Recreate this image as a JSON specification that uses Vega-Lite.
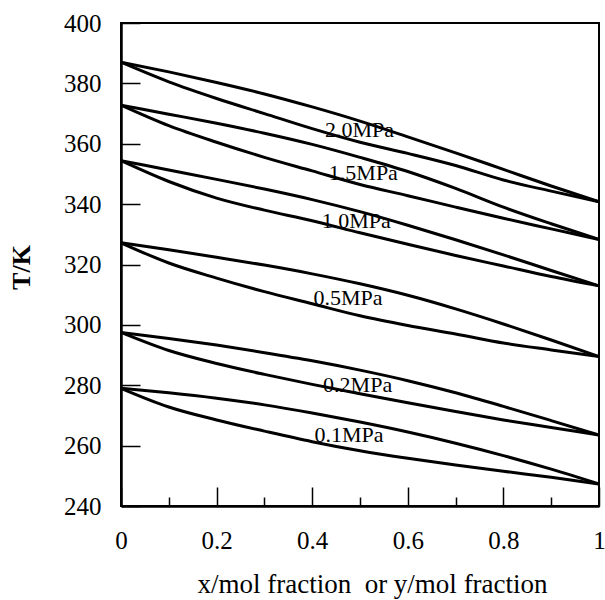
{
  "$schema": "https://vega.github.io/schema/vega-lite/v6.json",
  "width": 478,
  "height": 483,
  "autosize": {"type": "none"},
  "padding": {"left": 121, "top": 23, "right": 6, "bottom": 94},
  "background": "white",
  "config": {"view": {"stroke": "black", "strokeWidth": 2}, "font": "Liberation Serif"},
  "datasets": {
    "curves": [
      {"curve": "2.0 dew", "x": 0, "T": 387}, {"curve": "2.0 dew", "x": 0.1, "T": 383.8}, {"curve": "2.0 dew", "x": 0.2, "T": 380.3}, {"curve": "2.0 dew", "x": 0.3, "T": 376.5}, {"curve": "2.0 dew", "x": 0.4, "T": 372.2}, {"curve": "2.0 dew", "x": 0.5, "T": 367.5}, {"curve": "2.0 dew", "x": 0.6, "T": 362.3}, {"curve": "2.0 dew", "x": 0.7, "T": 357}, {"curve": "2.0 dew", "x": 0.8, "T": 351.5}, {"curve": "2.0 dew", "x": 0.9, "T": 346}, {"curve": "2.0 dew", "x": 1, "T": 340.8},
      {"curve": "2.0 bub", "x": 0, "T": 387}, {"curve": "2.0 bub", "x": 0.1, "T": 380.5}, {"curve": "2.0 bub", "x": 0.2, "T": 375}, {"curve": "2.0 bub", "x": 0.3, "T": 370}, {"curve": "2.0 bub", "x": 0.4, "T": 365}, {"curve": "2.0 bub", "x": 0.5, "T": 360.5}, {"curve": "2.0 bub", "x": 0.6, "T": 356.8}, {"curve": "2.0 bub", "x": 0.7, "T": 352.8}, {"curve": "2.0 bub", "x": 0.8, "T": 348}, {"curve": "2.0 bub", "x": 0.9, "T": 344.3}, {"curve": "2.0 bub", "x": 1, "T": 340.8},
      {"curve": "1.5 dew", "x": 0, "T": 372.8}, {"curve": "1.5 dew", "x": 0.1, "T": 369.8}, {"curve": "1.5 dew", "x": 0.2, "T": 366.8}, {"curve": "1.5 dew", "x": 0.3, "T": 363.5}, {"curve": "1.5 dew", "x": 0.4, "T": 359.8}, {"curve": "1.5 dew", "x": 0.5, "T": 355.5}, {"curve": "1.5 dew", "x": 0.6, "T": 350.8}, {"curve": "1.5 dew", "x": 0.7, "T": 345.2}, {"curve": "1.5 dew", "x": 0.8, "T": 339}, {"curve": "1.5 dew", "x": 0.9, "T": 333.5}, {"curve": "1.5 dew", "x": 1, "T": 328.3},
      {"curve": "1.5 bub", "x": 0, "T": 372.8}, {"curve": "1.5 bub", "x": 0.1, "T": 366}, {"curve": "1.5 bub", "x": 0.2, "T": 360.5}, {"curve": "1.5 bub", "x": 0.3, "T": 355.5}, {"curve": "1.5 bub", "x": 0.4, "T": 351}, {"curve": "1.5 bub", "x": 0.5, "T": 346.5}, {"curve": "1.5 bub", "x": 0.6, "T": 342.8}, {"curve": "1.5 bub", "x": 0.7, "T": 339}, {"curve": "1.5 bub", "x": 0.8, "T": 335.3}, {"curve": "1.5 bub", "x": 0.9, "T": 331.8}, {"curve": "1.5 bub", "x": 1, "T": 328.3},
      {"curve": "1.0 dew", "x": 0, "T": 354.4}, {"curve": "1.0 dew", "x": 0.1, "T": 351.3}, {"curve": "1.0 dew", "x": 0.2, "T": 348.2}, {"curve": "1.0 dew", "x": 0.3, "T": 345}, {"curve": "1.0 dew", "x": 0.4, "T": 341.5}, {"curve": "1.0 dew", "x": 0.5, "T": 337.5}, {"curve": "1.0 dew", "x": 0.6, "T": 333}, {"curve": "1.0 dew", "x": 0.7, "T": 328.2}, {"curve": "1.0 dew", "x": 0.8, "T": 323.2}, {"curve": "1.0 dew", "x": 0.9, "T": 318}, {"curve": "1.0 dew", "x": 1, "T": 312.9},
      {"curve": "1.0 bub", "x": 0, "T": 354.4}, {"curve": "1.0 bub", "x": 0.1, "T": 347.5}, {"curve": "1.0 bub", "x": 0.2, "T": 342}, {"curve": "1.0 bub", "x": 0.3, "T": 338}, {"curve": "1.0 bub", "x": 0.4, "T": 334.5}, {"curve": "1.0 bub", "x": 0.5, "T": 330.5}, {"curve": "1.0 bub", "x": 0.6, "T": 326.7}, {"curve": "1.0 bub", "x": 0.7, "T": 323}, {"curve": "1.0 bub", "x": 0.8, "T": 319.5}, {"curve": "1.0 bub", "x": 0.9, "T": 316}, {"curve": "1.0 bub", "x": 1, "T": 312.9},
      {"curve": "0.5 dew", "x": 0, "T": 327.2}, {"curve": "0.5 dew", "x": 0.1, "T": 324.9}, {"curve": "0.5 dew", "x": 0.2, "T": 322.4}, {"curve": "0.5 dew", "x": 0.3, "T": 319.8}, {"curve": "0.5 dew", "x": 0.4, "T": 316.9}, {"curve": "0.5 dew", "x": 0.5, "T": 313.6}, {"curve": "0.5 dew", "x": 0.6, "T": 309.8}, {"curve": "0.5 dew", "x": 0.7, "T": 305.3}, {"curve": "0.5 dew", "x": 0.8, "T": 300.3}, {"curve": "0.5 dew", "x": 0.9, "T": 295}, {"curve": "0.5 dew", "x": 1, "T": 289.5},
      {"curve": "0.5 bub", "x": 0, "T": 327.2}, {"curve": "0.5 bub", "x": 0.1, "T": 320.5}, {"curve": "0.5 bub", "x": 0.2, "T": 315.5}, {"curve": "0.5 bub", "x": 0.3, "T": 311}, {"curve": "0.5 bub", "x": 0.4, "T": 307}, {"curve": "0.5 bub", "x": 0.5, "T": 303}, {"curve": "0.5 bub", "x": 0.6, "T": 299.8}, {"curve": "0.5 bub", "x": 0.7, "T": 297}, {"curve": "0.5 bub", "x": 0.8, "T": 294}, {"curve": "0.5 bub", "x": 0.9, "T": 291.7}, {"curve": "0.5 bub", "x": 1, "T": 289.5},
      {"curve": "0.2 dew", "x": 0, "T": 297.5}, {"curve": "0.2 dew", "x": 0.1, "T": 295.5}, {"curve": "0.2 dew", "x": 0.2, "T": 293.3}, {"curve": "0.2 dew", "x": 0.3, "T": 290.8}, {"curve": "0.2 dew", "x": 0.4, "T": 288.1}, {"curve": "0.2 dew", "x": 0.5, "T": 285}, {"curve": "0.2 dew", "x": 0.6, "T": 281.5}, {"curve": "0.2 dew", "x": 0.7, "T": 277.5}, {"curve": "0.2 dew", "x": 0.8, "T": 273}, {"curve": "0.2 dew", "x": 0.9, "T": 268.3}, {"curve": "0.2 dew", "x": 1, "T": 263.5},
      {"curve": "0.2 bub", "x": 0, "T": 297.5}, {"curve": "0.2 bub", "x": 0.1, "T": 291.5}, {"curve": "0.2 bub", "x": 0.2, "T": 287.2}, {"curve": "0.2 bub", "x": 0.3, "T": 283.6}, {"curve": "0.2 bub", "x": 0.4, "T": 280.3}, {"curve": "0.2 bub", "x": 0.5, "T": 277.2}, {"curve": "0.2 bub", "x": 0.6, "T": 274.2}, {"curve": "0.2 bub", "x": 0.7, "T": 271.3}, {"curve": "0.2 bub", "x": 0.8, "T": 268.5}, {"curve": "0.2 bub", "x": 0.9, "T": 266}, {"curve": "0.2 bub", "x": 1, "T": 263.5},
      {"curve": "0.1 dew", "x": 0, "T": 279}, {"curve": "0.1 dew", "x": 0.1, "T": 277.5}, {"curve": "0.1 dew", "x": 0.2, "T": 275.7}, {"curve": "0.1 dew", "x": 0.3, "T": 273.5}, {"curve": "0.1 dew", "x": 0.4, "T": 270.8}, {"curve": "0.1 dew", "x": 0.5, "T": 267.8}, {"curve": "0.1 dew", "x": 0.6, "T": 264.5}, {"curve": "0.1 dew", "x": 0.7, "T": 260.8}, {"curve": "0.1 dew", "x": 0.8, "T": 256.7}, {"curve": "0.1 dew", "x": 0.9, "T": 252.2}, {"curve": "0.1 dew", "x": 1, "T": 247.3},
      {"curve": "0.1 bub", "x": 0, "T": 279}, {"curve": "0.1 bub", "x": 0.1, "T": 272.8}, {"curve": "0.1 bub", "x": 0.2, "T": 268.5}, {"curve": "0.1 bub", "x": 0.3, "T": 264.8}, {"curve": "0.1 bub", "x": 0.4, "T": 261.3}, {"curve": "0.1 bub", "x": 0.5, "T": 258.3}, {"curve": "0.1 bub", "x": 0.6, "T": 255.8}, {"curve": "0.1 bub", "x": 0.7, "T": 253.6}, {"curve": "0.1 bub", "x": 0.8, "T": 251.5}, {"curve": "0.1 bub", "x": 0.9, "T": 249.5}, {"curve": "0.1 bub", "x": 1, "T": 247.3}
    ],
    "labels": [
      {"label": "2.0MPa", "x": 0.499, "T": 364.5},
      {"label": "1.5MPa", "x": 0.507, "T": 350.4},
      {"label": "1.0MPa", "x": 0.492, "T": 334.3},
      {"label": "0.5MPa", "x": 0.475, "T": 308.9},
      {"label": "0.2MPa", "x": 0.495, "T": 280.1},
      {"label": "0.1MPa", "x": 0.477, "T": 263.5}
    ]
  },
  "layer": [
    {
      "data": {"name": "curves"},
      "mark": {"type": "line", "color": "black", "strokeWidth": 3, "interpolate": "monotone"},
      "encoding": {
        "x": {
          "field": "x", "type": "quantitative",
          "scale": {"domain": [0, 1], "nice": false, "zero": false},
          "axis": {
            "values": [0, 0.1, 0.2, 0.3, 0.4, 0.5, 0.6, 0.7, 0.8, 0.9, 1],
            "grid": false,
            "title": "x/mol fraction\u00a0\u00a0or y/mol fraction",
            "titleFont": "Liberation Serif", "titleFontSize": 27, "titleFontWeight": "normal", "titleColor": "black",
            "titleX": 251, "titleY": 86, "titleBaseline": "alphabetic",
            "labelFont": "Liberation Serif", "labelFontSize": 25, "labelColor": "black",
            "labelExpr": "round(datum.value * 10) % 2 === 0 ? '' + datum.value : ''",
            "labelFlush": false, "labelOverlap": false, "labelPadding": 41,
            "tickSize": {"condition": {"test": "round(datum.value * 10) % 2 === 0", "value": -19}, "value": -9},
            "tickColor": "black", "tickWidth": 1.5,
            "domainColor": "black", "domainWidth": 2.5
          }
        },
        "y": {
          "field": "T", "type": "quantitative",
          "scale": {"domain": [240, 400], "nice": false, "zero": false},
          "axis": {
            "values": [240, 250, 260, 270, 280, 290, 300, 310, 320, 330, 340, 350, 360, 370, 380, 390, 400],
            "grid": false,
            "title": "T/K",
            "titleFont": "Liberation Serif", "titleFontSize": 26, "titleFontWeight": "bold", "titleColor": "black",
            "titleX": -100, "titleY": 244, "titleBaseline": "middle", "titleAngle": -90,
            "labelFont": "Liberation Serif", "labelFontSize": 25, "labelColor": "black",
            "labelExpr": "datum.value % 20 === 0 ? datum.label : ''",
            "labelFlush": false, "labelOverlap": false, "labelPadding": 39,
            "tickSize": {"condition": {"test": "datum.value % 20 === 0", "value": -19}, "value": -10},
            "tickColor": "black", "tickWidth": 1.5,
            "domainColor": "black", "domainWidth": 2.5
          }
        },
        "detail": {"field": "curve"}
      }
    },
    {
      "data": {"name": "labels"},
      "mark": {"type": "text", "font": "Liberation Serif", "fontSize": 22, "color": "black", "baseline": "middle", "align": "center"},
      "encoding": {
        "x": {"field": "x", "type": "quantitative"},
        "y": {"field": "T", "type": "quantitative"},
        "text": {"field": "label"}
      }
    }
  ]
}
